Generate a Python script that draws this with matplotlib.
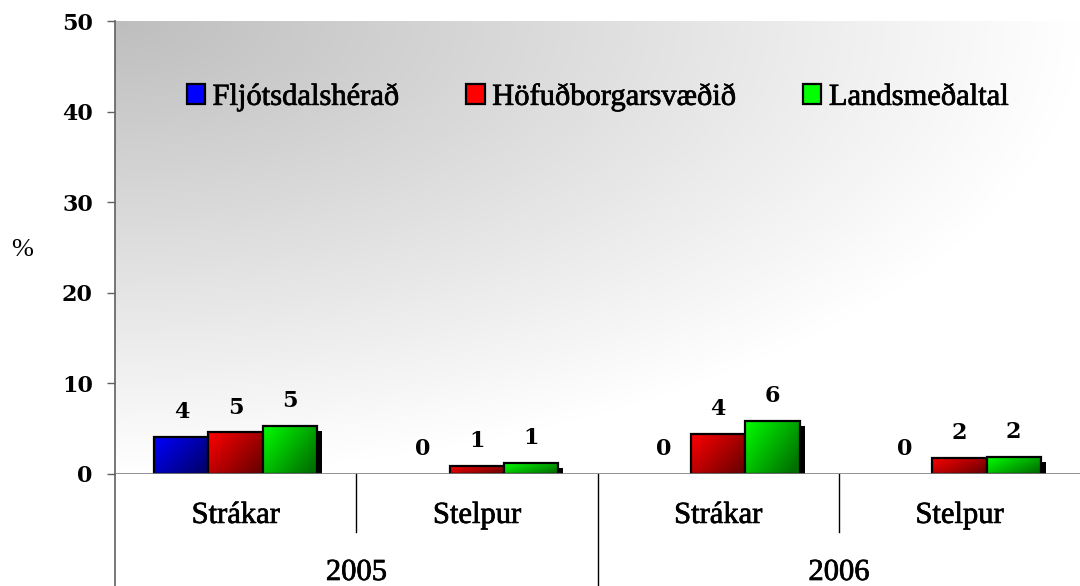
import numpy as np
import matplotlib
matplotlib.use("Agg")
import matplotlib.pyplot as plt
import matplotlib.patheffects as pe
import matplotlib.transforms as mtransforms
from matplotlib.patches import Patch

categories = ["Strákar", "Stelpur", "Strákar", "Stelpur"]
years = ["2005", "2006"]
series_names = ["Fljótsdalshérað", "Höfuðborgarsvæðið", "Landsmeðaltal"]
fljotsdalsherad = [4.1, 0.0, 0.0, 0.0]
hofudborgarsvaedid = [4.6, 0.9, 4.4, 1.8]
landsmedaltal = [5.3, 1.2, 5.9, 1.85]
y_ticks = [0, 10, 20, 30, 40, 50]

bright = ["#0000ff", "#ff0000", "#00ff00"]
dark = ["#000070", "#700000", "#007000"]

NUM_FONT = "DejaVu Serif"
TXT_FONT = "Liberation Serif"
# slightly heavier strokes for the serif labels
heavy = [pe.withStroke(linewidth=0.5, foreground="black")]

fig = plt.figure(figsize=(10.8, 5.86), dpi=100)
ax = fig.add_axes([115 / 1080, 1 - 474 / 586, 965 / 1080, 453 / 586])

# gray background: gradient from the top-left corner
u, w = np.meshgrid(np.linspace(0, 1, 400), np.linspace(0, 1, 250))
f = np.clip(1 - np.sqrt(u ** 2 + w ** 2), 0, 1)
gray = 1 - (65 / 255) * f
bg = np.dstack([gray, gray, gray])
ax.imshow(bg, extent=(0, 1, 0, 1), transform=ax.transAxes, aspect="auto",
          origin="upper", zorder=0, interpolation="bilinear")


def bar_gradient(c1, c2, n=60):
    c1 = np.array(matplotlib.colors.to_rgb(c1))
    c2 = np.array(matplotlib.colors.to_rgb(c2))
    gu, gv = np.meshgrid(np.linspace(0, 1, n), np.linspace(0, 1, n))
    t = np.clip(0.65 * gu + 0.45 * gv, 0, 1)[..., None]
    return c1 * (1 - t) + c2 * t


x = np.arange(len(categories))
width = 0.225
all_values = [fljotsdalsherad, hofudborgarsvaedid, landsmedaltal]
shadow = [pe.SimplePatchShadow(offset=(3.6, -3.6), shadow_rgbFace="black", alpha=1.0),
          pe.Normal()]

for i, values in enumerate(all_values):
    pos = x + (i - 1) * width
    z = 2 + i
    bars = ax.bar(pos, values, width, color=bright[i], edgecolor="none", zorder=z)
    grad = bar_gradient(bright[i], dark[i])
    for rect in bars:
        h = rect.get_height()
        if h <= 0:
            rect.set_visible(False)
            continue
        rect.set_path_effects(shadow)
        x0, bw = rect.get_x(), rect.get_width()
        im = ax.imshow(grad, extent=(x0, x0 + bw, 0, h), aspect="auto",
                       zorder=z + 0.1, interpolation="bilinear")
        im.set_clip_path(rect)
    outline = ax.bar(pos, values, width, facecolor="none", edgecolor="black",
                     linewidth=1.6, zorder=z + 0.2)
    for rect in outline:
        if rect.get_height() <= 0:
            rect.set_visible(False)
    for px, v in zip(pos, values):
        ax.annotate(f"{v:.0f}", xy=(px, v), xytext=(0, 13.5),
                    textcoords="offset points", ha="center", va="baseline",
                    fontsize=16, family=NUM_FONT, weight="bold", zorder=10)

ax.set_xlim(-0.5, len(categories) - 0.5)
ax.set_ylim(0, 50)
ax.set_yticks(y_ticks)
ax.set_yticklabels([str(t) for t in y_ticks], fontsize=16, family=NUM_FONT,
                   weight="bold")
ax.tick_params(axis="y", length=6, width=1, color="#606060", pad=10)
ax.set_xticks([])
for s in ["top", "right", "bottom"]:
    ax.spines[s].set_visible(False)
ax.spines["left"].set_color("#606060")
ax.spines["left"].set_linewidth(1.2)
ax.axhline(0, color="#808080", linewidth=1.2, zorder=8)

# two-level category axis
trans = mtransforms.blended_transform_factory(ax.transData, ax.transAxes)
for xi, cat in zip(x, categories):
    ax.text(xi, -0.108, cat, transform=trans, ha="center", va="baseline",
            fontsize=22, family=TXT_FONT, path_effects=heavy)
for j, yr in enumerate(years):
    ax.text(2 * j + 0.5, -0.234, yr, transform=trans, ha="center",
            va="baseline", fontsize=22, family=TXT_FONT, path_effects=heavy)
ax.plot([-0.5, -0.5], [0, -0.26], transform=trans, color="#606060",
        linewidth=1.2, clip_on=False)
for b in [0.5, 2.5]:
    ax.plot([b, b], [0, -0.128], transform=trans, color="black",
            linewidth=1.0, clip_on=False)
ax.plot([1.5, 1.5], [0, -0.26], transform=trans, color="black",
        linewidth=1.0, clip_on=False)

fig.text(22 / 1080, 1 - 250 / 586, "%", ha="center", va="center",
         fontsize=19, family=TXT_FONT)

handles = [Patch(facecolor=bright[i], edgecolor="black", linewidth=1.6)
           for i in range(3)]
leg = ax.legend(handles, series_names, loc="center", bbox_to_anchor=(0.5, 0.832),
                ncol=3, frameon=False, prop={"family": TXT_FONT, "size": 22},
                handlelength=0.6, handleheight=0.6, handletextpad=0.25,
                columnspacing=2.2, borderpad=0)
for t in leg.get_texts():
    t.set_path_effects(heavy)

fig.savefig("out.png", dpi=100)
